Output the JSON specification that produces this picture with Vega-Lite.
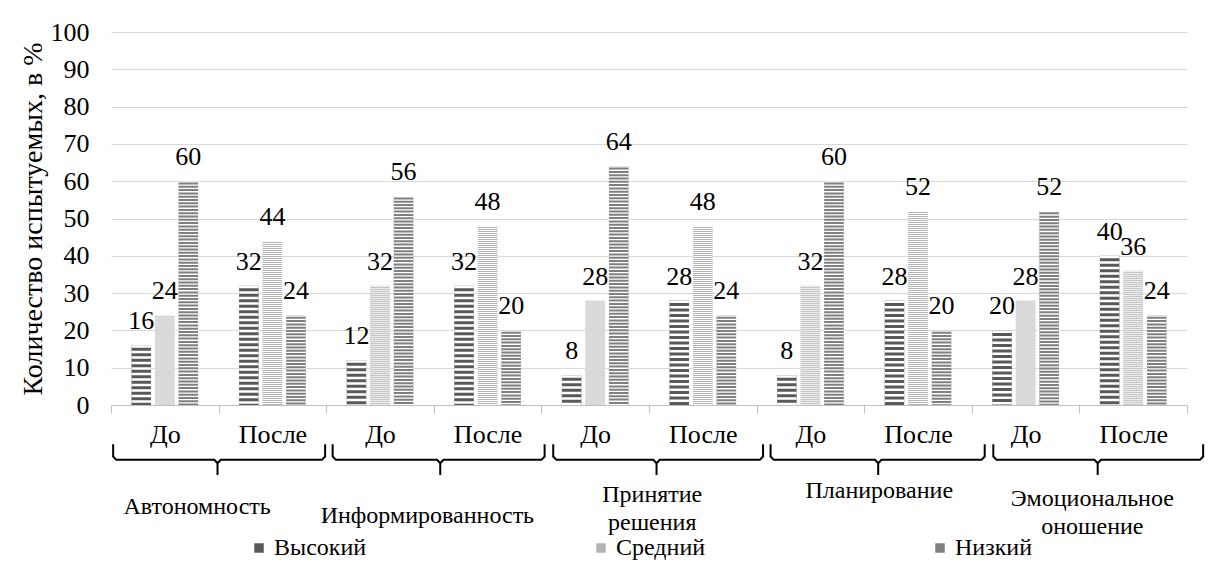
{
  "$schema": "https://vega.github.io/schema/vega-lite/v6.json",
  "width": 1076,
  "height": 373,
  "autosize": {"type": "none"},
  "padding": {"left": 111, "top": 32, "right": 22, "bottom": 159},
  "background": "white",
  "config": {
    "font": "Liberation Serif",
    "view": {"stroke": null}
  },
  "datasets": {
    "bars": [
      {"cat": "Автономность|До", "level": "Высокий", "value": 16},
      {"cat": "Автономность|До", "level": "Средний", "value": 24},
      {"cat": "Автономность|До", "level": "Низкий", "value": 60},
      {"cat": "Автономность|После", "level": "Высокий", "value": 32},
      {"cat": "Автономность|После", "level": "Средний", "value": 44},
      {"cat": "Автономность|После", "level": "Низкий", "value": 24},
      {"cat": "Информированность|До", "level": "Высокий", "value": 12},
      {"cat": "Информированность|До", "level": "Средний", "value": 32},
      {"cat": "Информированность|До", "level": "Низкий", "value": 56},
      {"cat": "Информированность|После", "level": "Высокий", "value": 32},
      {"cat": "Информированность|После", "level": "Средний", "value": 48},
      {"cat": "Информированность|После", "level": "Низкий", "value": 20},
      {"cat": "Принятие решения|До", "level": "Высокий", "value": 8},
      {"cat": "Принятие решения|До", "level": "Средний", "value": 28},
      {"cat": "Принятие решения|До", "level": "Низкий", "value": 64},
      {"cat": "Принятие решения|После", "level": "Высокий", "value": 28},
      {"cat": "Принятие решения|После", "level": "Средний", "value": 48},
      {"cat": "Принятие решения|После", "level": "Низкий", "value": 24},
      {"cat": "Планирование|До", "level": "Высокий", "value": 8},
      {"cat": "Планирование|До", "level": "Средний", "value": 32},
      {"cat": "Планирование|До", "level": "Низкий", "value": 60},
      {"cat": "Планирование|После", "level": "Высокий", "value": 28},
      {"cat": "Планирование|После", "level": "Средний", "value": 52},
      {"cat": "Планирование|После", "level": "Низкий", "value": 20},
      {"cat": "Эмоциональное оношение|До", "level": "Высокий", "value": 20},
      {"cat": "Эмоциональное оношение|До", "level": "Средний", "value": 28},
      {"cat": "Эмоциональное оношение|До", "level": "Низкий", "value": 52},
      {"cat": "Эмоциональное оношение|После", "level": "Высокий", "value": 40},
      {"cat": "Эмоциональное оношение|После", "level": "Средний", "value": 36},
      {"cat": "Эмоциональное оношение|После", "level": "Низкий", "value": 24}
    ],
    "braces": [
      {"g": 1, "i": 0, "bx": 0.02, "by": -10.5}, {"g": 1, "i": 1, "bx": 0.02, "by": -13.8}, {"g": 1, "i": 2, "bx": 0.05, "by": -14.7},
      {"g": 1, "i": 3, "bx": 0.96, "by": -14.7}, {"g": 1, "i": 4, "bx": 0.99, "by": -15.6}, {"g": 1, "i": 5, "bx": 0.99, "by": -18.8},
      {"g": 1, "i": 6, "bx": 0.99, "by": -15.6}, {"g": 1, "i": 7, "bx": 1.02, "by": -14.7}, {"g": 1, "i": 8, "bx": 1.96, "by": -14.7},
      {"g": 1, "i": 9, "bx": 1.99, "by": -13.8}, {"g": 1, "i": 10, "bx": 1.99, "by": -10.5},
      {"g": 2, "i": 0, "bx": 2.06, "by": -10.5}, {"g": 2, "i": 1, "bx": 2.06, "by": -13.8}, {"g": 2, "i": 2, "bx": 2.09, "by": -14.7},
      {"g": 2, "i": 3, "bx": 3.03, "by": -14.7}, {"g": 2, "i": 4, "bx": 3.06, "by": -15.6}, {"g": 2, "i": 5, "bx": 3.06, "by": -18.8},
      {"g": 2, "i": 6, "bx": 3.06, "by": -15.6}, {"g": 2, "i": 7, "bx": 3.09, "by": -14.7}, {"g": 2, "i": 8, "bx": 4.00, "by": -14.7},
      {"g": 2, "i": 9, "bx": 4.03, "by": -13.8}, {"g": 2, "i": 10, "bx": 4.03, "by": -10.5},
      {"g": 3, "i": 0, "bx": 4.11, "by": -10.5}, {"g": 3, "i": 1, "bx": 4.11, "by": -13.8}, {"g": 3, "i": 2, "bx": 4.14, "by": -14.7},
      {"g": 3, "i": 3, "bx": 5.04, "by": -14.7}, {"g": 3, "i": 4, "bx": 5.07, "by": -15.6}, {"g": 3, "i": 5, "bx": 5.07, "by": -18.8},
      {"g": 3, "i": 6, "bx": 5.07, "by": -15.6}, {"g": 3, "i": 7, "bx": 5.10, "by": -14.7}, {"g": 3, "i": 8, "bx": 6.03, "by": -14.7},
      {"g": 3, "i": 9, "bx": 6.06, "by": -13.8}, {"g": 3, "i": 10, "bx": 6.06, "by": -10.5},
      {"g": 4, "i": 0, "bx": 6.13, "by": -10.5}, {"g": 4, "i": 1, "bx": 6.13, "by": -13.8}, {"g": 4, "i": 2, "bx": 6.16, "by": -14.7},
      {"g": 4, "i": 3, "bx": 7.10, "by": -14.7}, {"g": 4, "i": 4, "bx": 7.13, "by": -15.6}, {"g": 4, "i": 5, "bx": 7.13, "by": -18.8},
      {"g": 4, "i": 6, "bx": 7.13, "by": -15.6}, {"g": 4, "i": 7, "bx": 7.16, "by": -14.7}, {"g": 4, "i": 8, "bx": 8.09, "by": -14.7},
      {"g": 4, "i": 9, "bx": 8.12, "by": -13.8}, {"g": 4, "i": 10, "bx": 8.12, "by": -10.5},
      {"g": 5, "i": 0, "bx": 8.20, "by": -10.5}, {"g": 5, "i": 1, "bx": 8.20, "by": -13.8}, {"g": 5, "i": 2, "bx": 8.23, "by": -14.7},
      {"g": 5, "i": 3, "bx": 9.14, "by": -14.7}, {"g": 5, "i": 4, "bx": 9.17, "by": -15.6}, {"g": 5, "i": 5, "bx": 9.17, "by": -18.8},
      {"g": 5, "i": 6, "bx": 9.17, "by": -15.6}, {"g": 5, "i": 7, "bx": 9.20, "by": -14.7}, {"g": 5, "i": 8, "bx": 10.12, "by": -14.7},
      {"g": 5, "i": 9, "bx": 10.15, "by": -13.8}, {"g": 5, "i": 10, "bx": 10.15, "by": -10.5}
    ],
    "groups": [
      {"label": "Автономность", "gx": 0.80, "gy": -27.3},
      {"label": "Информированность", "gx": 2.94, "gy": -29.8},
      {"label": "Принятие\nрешения", "gx": 5.03, "gy": -24.1},
      {"label": "Планирование", "gx": 7.14, "gy": -23.0},
      {"label": "Эмоциональное\nоношение", "gx": 9.12, "gy": -25.2}
    ]
  },
  "layer": [
    {
      "data": {"name": "bars"},
      "encoding": {
        "x": {
          "field": "cat", "type": "nominal", "sort": null,
          "scale": {"paddingInner": 0, "paddingOuter": 0},
          "axis": {
            "title": null, "labelExpr": "split(datum.label, '|')[1]", "labelAngle": 0,
            "labelFontSize": 26, "labelColor": "#000", "labelPadding": 8,
            "tickBand": "extent", "tickSize": 8, "tickColor": "#bfbfbf",
            "domainColor": "#bfbfbf", "grid": false
          }
        },
        "xOffset": {
          "field": "level", "type": "nominal", "sort": ["Высокий", "Средний", "Низкий"],
          "scale": {"domain": ["Высокий", "Средний", "Низкий"], "paddingInner": 0.17, "paddingOuter": 0.87}
        },
        "y": {
          "field": "value", "type": "quantitative",
          "scale": {"domain": [0, 100], "nice": false},
          "axis": {
            "title": "Количество испытуемых, в %", "titleFontSize": 28, "titleFontWeight": "normal",
            "titleColor": "#000", "titlePadding": 3,
            "values": [0, 10, 20, 30, 40, 50, 60, 70, 80, 90, 100],
            "labelFontSize": 26, "labelColor": "#000", "labelPadding": 22,
            "ticks": false, "domain": false, "gridColor": "#d9d9d9", "gridWidth": 1
          }
        }
      },
      "layer": [
        {
          "mark": {"type": "bar"},
          "encoding": {
            "fill": {
              "field": "level", "type": "nominal",
              "scale": {"domain": ["Высокий", "Средний", "Низкий"], "range": ["#595959", "#b3b3b3", "#7f7f7f"]},
              "legend": {
                "title": null, "orient": "none", "legendX": 136, "legendY": 504,
                "direction": "horizontal", "symbolType": "square", "symbolSize": 90,
                "symbolStrokeWidth": 0, "labelFontSize": 24,
                "labelColor": "#000", "labelOffset": 3, "columnPadding": 222
              }
            }
          }
        },
        {
          "mark": {"type": "rule", "stroke": "white", "strokeWidth": 19.5, "strokeCap": "butt"},
          "encoding": {
            "y2": {"datum": 0},
            "strokeDash": {
              "field": "level", "type": "nominal",
              "scale": {"domain": ["Высокий", "Средний", "Низкий"], "range": [[2.5, 3], [1, 1], [1.3, 2]]},
              "legend": null
            }
          }
        },
        {
          "mark": {"type": "text", "fontSize": 26, "dy": -16, "baseline": "alphabetic", "color": "#000"},
          "encoding": {"text": {"field": "value", "type": "quantitative"}}
        }
      ]
    },
    {
      "layer": [
        {
          "data": {"name": "braces"},
          "mark": {"type": "line", "color": "#000", "strokeWidth": 2},
          "encoding": {
            "x": {"field": "bx", "type": "quantitative", "scale": {"domain": [0, 10], "nice": false, "zero": false}, "axis": null},
            "y": {"field": "by", "type": "quantitative", "scale": {"domain": [0, 100], "nice": false}, "axis": null},
            "detail": {"field": "g", "type": "nominal"},
            "order": {"field": "i", "type": "quantitative"}
          }
        },
        {
          "data": {"name": "groups"},
          "mark": {"type": "text", "fontSize": 24, "lineBreak": "\n", "baseline": "middle", "align": "center", "lineHeight": 28, "color": "#000"},
          "encoding": {
            "x": {"field": "gx", "type": "quantitative", "scale": {"domain": [0, 10], "nice": false, "zero": false}, "axis": null},
            "y": {"field": "gy", "type": "quantitative", "scale": {"domain": [0, 100], "nice": false}, "axis": null},
            "text": {"field": "label", "type": "nominal"}
          }
        }
      ]
    }
  ],
  "resolve": {"scale": {"x": "independent", "y": "independent"}}
}
